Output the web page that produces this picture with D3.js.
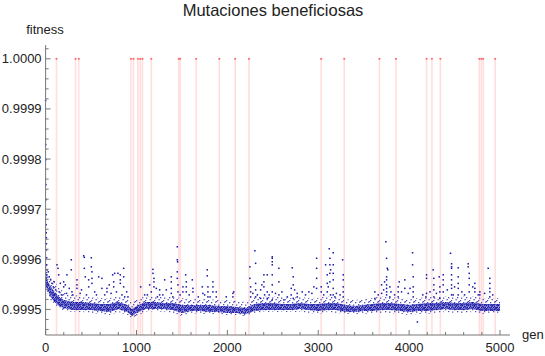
<!DOCTYPE html>
<html>
<head>
<meta charset="utf-8">
<script src="https://cdn.jsdelivr.net/npm/d3@7"></script>
<style>
  body { margin: 0; background: #fff; }
  svg { display: block; font-family: "Liberation Sans", Arial, sans-serif; }
</style>
</head>
<body>
<div id="chart"></div>
<script>
// ===== DATA =====

// generations where a beneficial mutation fixed (red lines, drawn at fitness 1)
const mutationGens = [120, 329, 365, 939, 967, 1016, 1042, 1066, 1163, 1465, 1480,
  1657, 1911, 2086, 2238, 3032, 3286, 3673, 3855, 4192, 4251, 4344, 4773, 4795, 4815, 4947];

// the dense band of the population fitness (outer spread and core)
const bandGens = [0, 20, 50, 100, 150, 200, 300, 400, 500, 600, 700, 800, 900, 950, 1000,
  1100, 1200, 1300, 1400, 1500, 1600, 1700, 1800, 1900, 2000, 2100, 2200, 2300, 2400, 2500,
  2600, 2700, 2800, 2900, 3000, 3100, 3200, 3300, 3400, 3500, 3600, 3700, 3800, 3900, 4000,
  4100, 4200, 4300, 4400, 4500, 4600, 4700, 4800, 4900, 5000];
const bandOuterHi = [0.999595, 0.999579, 0.999563, 0.999555, 0.999543, 0.999535, 0.999529, 0.999527, 0.999525, 0.999523,
  0.999523, 0.999527, 0.999521, 0.999513, 0.999519, 0.999527, 0.999527, 0.999525, 0.999525, 0.999523,
  0.999521, 0.999521, 0.999521, 0.999519, 0.999519, 0.999517, 0.999515, 0.999525, 0.999527, 0.999527,
  0.999525, 0.999523, 0.999525, 0.999523, 0.999523, 0.999527, 0.999525, 0.999521, 0.999519, 0.999521,
  0.999523, 0.999527, 0.999525, 0.999523, 0.999521, 0.999523, 0.999525, 0.999525, 0.999527, 0.999525,
  0.999527, 0.999527, 0.999523, 0.999523, 0.999523];
const bandOuterLo = [0.999539, 0.999531, 0.999519, 0.999509, 0.999501, 0.999497, 0.999495, 0.999495, 0.999493, 0.999491,
  0.999489, 0.999495, 0.999489, 0.999483, 0.999487, 0.999495, 0.999497, 0.999495, 0.999493, 0.999487,
  0.999493, 0.999491, 0.999491, 0.999491, 0.999489, 0.999489, 0.999487, 0.999493, 0.999495, 0.999495,
  0.999495, 0.999495, 0.999495, 0.999493, 0.999491, 0.999495, 0.999493, 0.999491, 0.999491, 0.999491,
  0.999493, 0.999493, 0.999493, 0.999491, 0.999489, 0.999491, 0.999491, 0.999493, 0.999495, 0.999493,
  0.999493, 0.999495, 0.999491, 0.999493, 0.999493];
const bandCoreHi = [0.999575, 0.999559, 0.999547, 0.999535, 0.999525, 0.999519, 0.999515, 0.999515, 0.999513, 0.999511,
  0.999511, 0.999515, 0.999509, 0.999501, 0.999507, 0.999515, 0.999515, 0.999513, 0.999513, 0.999509,
  0.999509, 0.999509, 0.999509, 0.999507, 0.999507, 0.999505, 0.999503, 0.999511, 0.999513, 0.999513,
  0.999511, 0.999511, 0.999513, 0.999511, 0.999511, 0.999513, 0.999513, 0.999509, 0.999507, 0.999509,
  0.999511, 0.999513, 0.999513, 0.999511, 0.999509, 0.999511, 0.999513, 0.999513, 0.999515, 0.999513,
  0.999513, 0.999515, 0.999511, 0.999511, 0.999511];
const bandCoreLo = [0.999549, 0.999539, 0.999527, 0.999515, 0.999507, 0.999503, 0.999499, 0.999499, 0.999499, 0.999497,
  0.999495, 0.999501, 0.999495, 0.999487, 0.999493, 0.999501, 0.999501, 0.999501, 0.999499, 0.999493,
  0.999497, 0.999497, 0.999495, 0.999495, 0.999493, 0.999493, 0.999491, 0.999497, 0.999499, 0.999499,
  0.999499, 0.999499, 0.999501, 0.999499, 0.999497, 0.999499, 0.999499, 0.999495, 0.999495, 0.999497,
  0.999497, 0.999499, 0.999499, 0.999497, 0.999495, 0.999497, 0.999497, 0.999499, 0.999501, 0.999499,
  0.999499, 0.999501, 0.999497, 0.999497, 0.999497];

// first generations, fitness falling from the start value
const earlyPoints = [[0, 0.999917], [1, 0.999829], [2, 0.999799], [3, 0.999749], [4, 0.999719],
  [5, 0.999689], [6, 0.999669], [7, 0.999653], [8, 0.999643], [9, 0.999631], [10, 0.999619],
  [11, 0.999603], [12, 0.999589], [13, 0.999579], [14, 0.999569]];

// scattered points above (and below) the band
const spikePoints = [
  [125, 0.999589], [136, 0.999582], [144, 0.999569], [162, 0.999552], [199, 0.999555], [199, 0.999545],
  [217, 0.999549], [235, 0.999569], [283, 0.999599], [283, 0.999579], [290, 0.999535], [345, 0.999559],
  [345, 0.999549], [345, 0.999542], [419, 0.999607], [426, 0.999604], [426, 0.999582], [437, 0.999565],
  [474, 0.999559], [474, 0.999545], [503, 0.999603], [503, 0.999585], [510, 0.999575], [510, 0.999562],
  [510, 0.999552], [584, 0.999565], [620, 0.999562], [620, 0.999542], [675, 0.999542], [675, 0.999535],
  [738, 0.999569], [760, 0.999572], [749, 0.999555], [749, 0.999545], [796, 0.999572], [822, 0.999569],
  [822, 0.999559], [822, 0.999552], [859, 0.999582], [859, 0.999565], [859, 0.999545], [892, 0.999535],
  [906, 0.999525],
  [1046, 0.999545], [1090, 0.999529], [1145, 0.999549], [1163, 0.999535], [1181, 0.999580], [1181, 0.999572],
  [1192, 0.999562], [1192, 0.999555], [1192, 0.999545], [1218, 0.999542], [1255, 0.999539], [1255, 0.999529],
  [1310, 0.999559], [1328, 0.999539], [1383, 0.999565], [1383, 0.999555], [1383, 0.999542], [1383, 0.999532],
  [1449, 0.999625], [1449, 0.999599], [1452, 0.999595], [1449, 0.999575], [1449, 0.999562], [1456, 0.999549],
  [1456, 0.999535], [1511, 0.999545], [1511, 0.999535], [1541, 0.999569], [1548, 0.999555], [1548, 0.999545],
  [1548, 0.999535], [1614, 0.999559], [1621, 0.999542], [1621, 0.999535], [1724, 0.999545], [1731, 0.999532],
  [1779, 0.999579], [1779, 0.999567], [1786, 0.999545], [1786, 0.999535], [1786, 0.999525], [1841, 0.999555],
  [1841, 0.999545], [1841, 0.999535], [1878, 0.999535], [1878, 0.999525], [1988, 0.999525], [2061, 0.999532],
  [2061, 0.999525], [2070, 0.999535],
  [2248, 0.999585], [2248, 0.999562], [2256, 0.999545], [2256, 0.999535], [2256, 0.999525], [2303, 0.999617],
  [2311, 0.999592], [2311, 0.999552], [2311, 0.999539], [2311, 0.999525], [2366, 0.999539], [2366, 0.999522],
  [2402, 0.999569], [2402, 0.999555], [2402, 0.999545], [2410, 0.999529], [2439, 0.999569], [2439, 0.999535],
  [2439, 0.999522], [2494, 0.999605], [2494, 0.999602], [2494, 0.999595], [2494, 0.999589], [2494, 0.999569],
  [2494, 0.999549], [2494, 0.999535], [2494, 0.999519], [2567, 0.999582], [2567, 0.999555], [2567, 0.999529],
  [2622, 0.999519], [2703, 0.999542], [2703, 0.999529], [2714, 0.999583], [2725, 0.999565], [2725, 0.999549],
  [2725, 0.999522], [2769, 0.999532], [2769, 0.999525], [2824, 0.999535], [2897, 0.999535], [2952, 0.999545],
  [2982, 0.999602], [2982, 0.999582], [2982, 0.999562], [2982, 0.999542], [3033, 0.999545], [3033, 0.999535],
  [3081, 0.999589], [3099, 0.999569], [3099, 0.999552], [3099, 0.999535], [3121, 0.999621], [3136, 0.999579],
  [3136, 0.999529], [3128, 0.999602], [3128, 0.999589], [3128, 0.999572], [3128, 0.999555], [3165, 0.999613],
  [3165, 0.999589], [3165, 0.999572], [3165, 0.999559], [3165, 0.999542], [3165, 0.999529], [3183, 0.999525],
  [3268, 0.999599], [3275, 0.999569], [3275, 0.999559], [3275, 0.999545], [3275, 0.999535], [3275, 0.999525],
  [3623, 0.999535], [3623, 0.999522], [3697, 0.999549], [3697, 0.999532], [3744, 0.999635], [3752, 0.999602],
  [3759, 0.999582], [3766, 0.999579], [3752, 0.999565], [3752, 0.999559], [3752, 0.999549], [3752, 0.999542],
  [3752, 0.999535], [3752, 0.999529], [3788, 0.999545], [3788, 0.999525], [3891, 0.999555], [3880, 0.999545],
  [3880, 0.999535], [3880, 0.999525], [3917, 0.999535], [3953, 0.999559], [3953, 0.999542], [4038, 0.999613],
  [4038, 0.999589], [4045, 0.999565], [4045, 0.999545], [4045, 0.999535], [4045, 0.999525], [4091, 0.999475],
  [4192, 0.999569], [4192, 0.999562], [4192, 0.999532], [4185, 0.999525],
  [4265, 0.999579], [4272, 0.999562], [4272, 0.999549], [4272, 0.999539], [4272, 0.999525], [4331, 0.999565],
  [4338, 0.999545], [4338, 0.999535], [4338, 0.999522], [4375, 0.999569], [4375, 0.999559], [4375, 0.999549],
  [4375, 0.999535], [4456, 0.999612], [4467, 0.999591], [4467, 0.999585], [4467, 0.999582], [4467, 0.999569],
  [4467, 0.999559], [4467, 0.999549], [4467, 0.999542], [4467, 0.999529], [4485, 0.999529], [4540, 0.999583],
  [4540, 0.999565], [4540, 0.999552], [4540, 0.999542], [4540, 0.999529], [4650, 0.999591], [4650, 0.999585],
  [4661, 0.999572], [4661, 0.999562], [4661, 0.999549], [4661, 0.999535], [4723, 0.999552], [4723, 0.999542],
  [4723, 0.999535], [4778, 0.999535], [4778, 0.999529], [4870, 0.999582], [4888, 0.999562], [4888, 0.999552],
  [4888, 0.999542], [4888, 0.999535], [4888, 0.999525]
];

// lower scattered points just over the band
const lowScatter = [
  [30, 0.999575], [40, 0.999565], [55, 0.999559], [70, 0.999552], [85, 0.999545], [95, 0.999555],
  [110, 0.999539], [150, 0.999535], [175, 0.999529], [230, 0.999532], [260, 0.999542], [300, 0.999529],
  [380, 0.999532], [395, 0.999539], [450, 0.999529], [540, 0.999535], [560, 0.999529], [650, 0.999529],
  [700, 0.999549], [720, 0.999532], [780, 0.999535], [840, 0.999529], [870, 0.999525],
  [1120, 0.999529], [1230, 0.999525], [1290, 0.999529], [1400, 0.999525], [1480, 0.999529], [1580, 0.999529],
  [1680, 0.999525], [1750, 0.999529], [1810, 0.999525],
  [2280, 0.999532], [2330, 0.999529], [2380, 0.999549], [2460, 0.999529], [2530, 0.999532], [2600, 0.999535],
  [2660, 0.999525], [2740, 0.999539], [2860, 0.999529], [2930, 0.999532],
  [3060, 0.999529], [3110, 0.999545], [3200, 0.999532], [3240, 0.999529],
  [3660, 0.999529], [3720, 0.999539], [3730, 0.999555], [3800, 0.999535], [3840, 0.999529], [3990, 0.999532],
  [4010, 0.999542], [4150, 0.999529], [4230, 0.999535], [4300, 0.999532], [4420, 0.999539], [4500, 0.999545],
  [4580, 0.999535], [4610, 0.999529], [4700, 0.999545], [4760, 0.999529], [4830, 0.999532], [4920, 0.999529]
];

const xMajorTicks = [0, 1000, 2000, 3000, 4000, 5000];
const xMinorTicks = [200, 400, 600, 800, 1200, 1400, 1600, 1800, 2200, 2400, 2600, 2800,
  3200, 3400, 3600, 3800, 4200, 4400, 4600, 4800];
const yMajorTicks = [0.9995, 0.9996, 0.9997, 0.9998, 0.9999, 1.0];
const yMinorTicks = [0.99946, 0.99948, 0.99952, 0.99954, 0.99956, 0.99958, 0.99962, 0.99964,
  0.99966, 0.99968, 0.99972, 0.99974, 0.99976, 0.99978, 0.99982, 0.99984, 0.99986, 0.99988,
  0.99992, 0.99994, 0.99996, 0.99998, 1.00002];

// ===== CHART =====
const width = 545, height = 356;
const axisColor = '#777';
const pointColor = '#1414a8';

const svg = d3.select('#chart').append('svg')
  .attr('width', width)
  .attr('height', height);

const x = d3.scaleLinear().domain([0, 5110]).range([45.6, 510]);
const y = d3.scaleLinear().domain([0.999449, 1.0000275]).range([335, 45]);

const defs = svg.append('defs');

// stipple tiles (hand placed dots) so the band reads as a cloud of points
function stipple(id, w, h, dots, size, opacity) {
  const p = defs.append('pattern')
    .attr('id', id)
    .attr('patternUnits', 'userSpaceOnUse')
    .attr('width', w).attr('height', h);
  p.selectAll('rect')
    .data(dots)
    .join('rect')
    .attr('x', d => d[0]).attr('y', d => d[1])
    .attr('width', size).attr('height', size)
    .attr('fill', pointColor)
    .attr('opacity', opacity);
}
stipple('dots-sparse', 9, 7,
  [[0, 0], [4, 1], [7, 3], [2, 3.5], [5.5, 5], [1, 6], [8, 0.5]], 1.3, 0.75);
stipple('dots-dense', 6, 5,
  [[0, 0], [2, 0.5], [4.2, 0], [1, 1.8], [3.2, 2], [5, 1.6], [0, 3.3], [2.2, 3.5], [4, 3.2], [1.2, 4.4], [5.2, 4]], 1.4, 1);

// red lines for the beneficial mutations
const mut = svg.append('g');
mut.selectAll('line')
  .data(mutationGens)
  .join('line')
  .attr('x1', d => x(d)).attr('x2', d => x(d))
  .attr('y1', y(1.0)).attr('y2', y.range()[0])
  .attr('stroke', '#ffdede')
  .attr('stroke-width', 1.6);
mut.selectAll('circle')
  .data(mutationGens)
  .join('circle')
  .attr('cx', d => x(d))
  .attr('cy', y(1.0))
  .attr('r', 1.1)
  .attr('fill', '#ff7070');

// band
const bandRows = bandGens.map((g, i) => ({
  gen: g, outerHi: bandOuterHi[i], outerLo: bandOuterLo[i], coreHi: bandCoreHi[i], coreLo: bandCoreLo[i]
}));
const outerArea = d3.area().x(d => x(d.gen)).y0(d => y(d.outerLo)).y1(d => y(d.outerHi));
const coreArea = d3.area().x(d => x(d.gen)).y0(d => y(d.coreLo)).y1(d => y(d.coreHi));

svg.append('path')
  .datum(bandRows)
  .attr('fill', 'url(#dots-sparse)')
  .attr('d', outerArea);

svg.append('path')
  .datum(bandRows)
  .attr('fill', pointColor)
  .attr('fill-opacity', 0.3)
  .attr('d', coreArea);

svg.append('path')
  .datum(bandRows)
  .attr('fill', 'url(#dots-dense)')
  .attr('d', coreArea);

// single points
svg.append('g')
  .selectAll('rect')
  .data(earlyPoints.concat(spikePoints, lowScatter))
  .join('rect')
  .attr('x', d => x(d[0]) - 0.75)
  .attr('y', d => y(d[1]) - 0.75)
  .attr('width', 1.5)
  .attr('height', 1.5)
  .attr('fill', pointColor);

// axes, ticks pointing inwards like the original
const yAxis = svg.append('g').attr('transform', `translate(${x(0)},0)`);
yAxis.append('line')
  .attr('y1', y.range()[0]).attr('y2', y.range()[1])
  .attr('stroke', axisColor);
yAxis.selectAll('.major')
  .data(yMajorTicks)
  .join('line')
  .attr('class', 'major')
  .attr('x1', 0).attr('x2', 5)
  .attr('y1', d => y(d)).attr('y2', d => y(d))
  .attr('stroke', axisColor);
yAxis.selectAll('.minor')
  .data(yMinorTicks)
  .join('line')
  .attr('class', 'minor')
  .attr('x1', 0).attr('x2', 3)
  .attr('y1', d => y(d)).attr('y2', d => y(d))
  .attr('stroke', axisColor);
yAxis.selectAll('text')
  .data(yMajorTicks)
  .join('text')
  .attr('x', -4)
  .attr('y', d => y(d) + 4.5)
  .attr('text-anchor', 'end')
  .attr('font-size', 13)
  .attr('fill', '#222')
  .text(d => d3.format('.4f')(d));

const xAxis = svg.append('g').attr('transform', `translate(0,${y.range()[0]})`);
xAxis.append('line')
  .attr('x1', x(0)).attr('x2', x.range()[1])
  .attr('stroke', axisColor);
xAxis.selectAll('.major')
  .data(xMajorTicks)
  .join('line')
  .attr('class', 'major')
  .attr('x1', d => x(d)).attr('x2', d => x(d))
  .attr('y1', 0).attr('y2', -5)
  .attr('stroke', axisColor);
xAxis.selectAll('.minor')
  .data(xMinorTicks)
  .join('line')
  .attr('class', 'minor')
  .attr('x1', d => x(d)).attr('x2', d => x(d))
  .attr('y1', 0).attr('y2', -3)
  .attr('stroke', axisColor);
xAxis.selectAll('text')
  .data(xMajorTicks)
  .join('text')
  .attr('x', d => x(d))
  .attr('y', 16.5)
  .attr('text-anchor', 'middle')
  .attr('font-size', 13)
  .attr('fill', '#222')
  .text(d => d);

// labels
svg.append('text')
  .attr('x', 273).attr('y', 16)
  .attr('text-anchor', 'middle')
  .attr('font-size', 16.5)
  .attr('fill', '#222')
  .text('Mutaciones beneficiosas');

svg.append('text')
  .attr('x', 45).attr('y', 34)
  .attr('text-anchor', 'middle')
  .attr('font-size', 13)
  .attr('fill', '#222')
  .text('fitness');

svg.append('text')
  .attr('x', 522).attr('y', 339)
  .attr('font-size', 13)
  .attr('fill', '#222')
  .text('gen');
</script>
</body>
</html>
